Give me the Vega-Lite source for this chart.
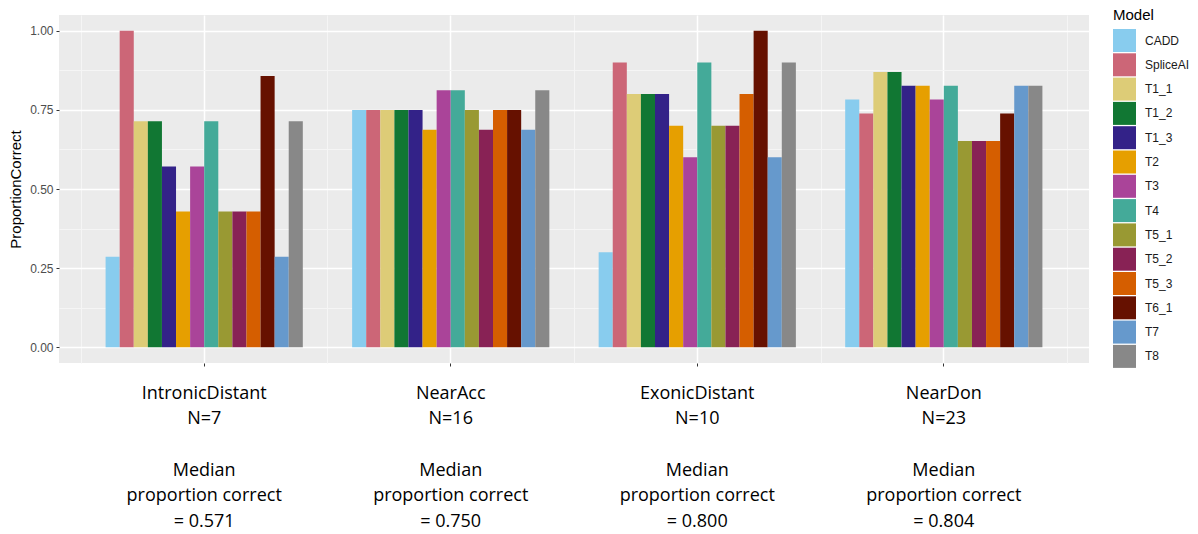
{
  "$schema": "https://vega.github.io/schema/vega-lite/v6.json",
  "width": 1030,
  "height": 348,
  "autosize": {"type": "none"},
  "padding": {"left": 59, "top": 15, "right": 109, "bottom": 171},
  "background": "white",
  "view": {"fill": "#EBEBEB", "stroke": null},
  "config": {
    "axis": {"labelFont": "Liberation Sans", "titleFont": "Liberation Sans"},
    "legend": {"labelFont": "Liberation Sans", "titleFont": "Liberation Sans"}
  },
  "data": {
    "values": [
      {"Region": "IntronicDistant", "Model": "CADD", "ProportionCorrect": 0.286},
      {"Region": "IntronicDistant", "Model": "SpliceAI", "ProportionCorrect": 1.0},
      {"Region": "IntronicDistant", "Model": "T1_1", "ProportionCorrect": 0.714},
      {"Region": "IntronicDistant", "Model": "T1_2", "ProportionCorrect": 0.714},
      {"Region": "IntronicDistant", "Model": "T1_3", "ProportionCorrect": 0.571},
      {"Region": "IntronicDistant", "Model": "T2", "ProportionCorrect": 0.429},
      {"Region": "IntronicDistant", "Model": "T3", "ProportionCorrect": 0.571},
      {"Region": "IntronicDistant", "Model": "T4", "ProportionCorrect": 0.714},
      {"Region": "IntronicDistant", "Model": "T5_1", "ProportionCorrect": 0.429},
      {"Region": "IntronicDistant", "Model": "T5_2", "ProportionCorrect": 0.429},
      {"Region": "IntronicDistant", "Model": "T5_3", "ProportionCorrect": 0.429},
      {"Region": "IntronicDistant", "Model": "T6_1", "ProportionCorrect": 0.857},
      {"Region": "IntronicDistant", "Model": "T7", "ProportionCorrect": 0.286},
      {"Region": "IntronicDistant", "Model": "T8", "ProportionCorrect": 0.714},
      {"Region": "NearAcc", "Model": "CADD", "ProportionCorrect": 0.75},
      {"Region": "NearAcc", "Model": "SpliceAI", "ProportionCorrect": 0.75},
      {"Region": "NearAcc", "Model": "T1_1", "ProportionCorrect": 0.75},
      {"Region": "NearAcc", "Model": "T1_2", "ProportionCorrect": 0.75},
      {"Region": "NearAcc", "Model": "T1_3", "ProportionCorrect": 0.75},
      {"Region": "NearAcc", "Model": "T2", "ProportionCorrect": 0.6875},
      {"Region": "NearAcc", "Model": "T3", "ProportionCorrect": 0.8125},
      {"Region": "NearAcc", "Model": "T4", "ProportionCorrect": 0.8125},
      {"Region": "NearAcc", "Model": "T5_1", "ProportionCorrect": 0.75},
      {"Region": "NearAcc", "Model": "T5_2", "ProportionCorrect": 0.6875},
      {"Region": "NearAcc", "Model": "T5_3", "ProportionCorrect": 0.75},
      {"Region": "NearAcc", "Model": "T6_1", "ProportionCorrect": 0.75},
      {"Region": "NearAcc", "Model": "T7", "ProportionCorrect": 0.6875},
      {"Region": "NearAcc", "Model": "T8", "ProportionCorrect": 0.8125},
      {"Region": "ExonicDistant", "Model": "CADD", "ProportionCorrect": 0.3},
      {"Region": "ExonicDistant", "Model": "SpliceAI", "ProportionCorrect": 0.9},
      {"Region": "ExonicDistant", "Model": "T1_1", "ProportionCorrect": 0.8},
      {"Region": "ExonicDistant", "Model": "T1_2", "ProportionCorrect": 0.8},
      {"Region": "ExonicDistant", "Model": "T1_3", "ProportionCorrect": 0.8},
      {"Region": "ExonicDistant", "Model": "T2", "ProportionCorrect": 0.7},
      {"Region": "ExonicDistant", "Model": "T3", "ProportionCorrect": 0.6},
      {"Region": "ExonicDistant", "Model": "T4", "ProportionCorrect": 0.9},
      {"Region": "ExonicDistant", "Model": "T5_1", "ProportionCorrect": 0.7},
      {"Region": "ExonicDistant", "Model": "T5_2", "ProportionCorrect": 0.7},
      {"Region": "ExonicDistant", "Model": "T5_3", "ProportionCorrect": 0.8},
      {"Region": "ExonicDistant", "Model": "T6_1", "ProportionCorrect": 1.0},
      {"Region": "ExonicDistant", "Model": "T7", "ProportionCorrect": 0.6},
      {"Region": "ExonicDistant", "Model": "T8", "ProportionCorrect": 0.9},
      {"Region": "NearDon", "Model": "CADD", "ProportionCorrect": 0.783},
      {"Region": "NearDon", "Model": "SpliceAI", "ProportionCorrect": 0.739},
      {"Region": "NearDon", "Model": "T1_1", "ProportionCorrect": 0.870},
      {"Region": "NearDon", "Model": "T1_2", "ProportionCorrect": 0.870},
      {"Region": "NearDon", "Model": "T1_3", "ProportionCorrect": 0.826},
      {"Region": "NearDon", "Model": "T2", "ProportionCorrect": 0.826},
      {"Region": "NearDon", "Model": "T3", "ProportionCorrect": 0.783},
      {"Region": "NearDon", "Model": "T4", "ProportionCorrect": 0.826},
      {"Region": "NearDon", "Model": "T5_1", "ProportionCorrect": 0.652},
      {"Region": "NearDon", "Model": "T5_2", "ProportionCorrect": 0.652},
      {"Region": "NearDon", "Model": "T5_3", "ProportionCorrect": 0.652},
      {"Region": "NearDon", "Model": "T6_1", "ProportionCorrect": 0.739},
      {"Region": "NearDon", "Model": "T7", "ProportionCorrect": 0.826},
      {"Region": "NearDon", "Model": "T8", "ProportionCorrect": 0.826}
    ]
  },
  "layer": [
    {
      "mark": {"type": "bar", "strokeWidth": 0},
      "encoding": {
        "x": {
          "field": "Region",
          "type": "nominal",
          "sort": ["IntronicDistant", "NearAcc", "ExonicDistant", "NearDon"],
          "scale": {"paddingInner": 0, "paddingOuter": 0.089},
          "axis": {
            "orient": "bottom",
            "title": null,
            "grid": true,
            "gridColor": "white",
            "gridWidth": 1.5,
            "domain": false,
            "ticks": true,
            "tickColor": "#333333",
            "tickSize": 3,
            "tickWidth": 1,
            "labelAngle": 0,
            "labelFont": "Open Sans",
            "labelFontSize": 18,
            "labelColor": "black",
            "labelLineHeight": 25.7,
            "labelPadding": 18,
            "labelExpr": "datum.value == 'IntronicDistant' ? ['IntronicDistant', 'N=7', '\u2800', 'Median', 'proportion correct', '= 0.571'] : datum.value == 'NearAcc' ? ['NearAcc', 'N=16', '\u2800', 'Median', 'proportion correct', '= 0.750'] : datum.value == 'ExonicDistant' ? ['ExonicDistant', 'N=10', '\u2800', 'Median', 'proportion correct', '= 0.800'] : ['NearDon', 'N=23', '\u2800', 'Median', 'proportion correct', '= 0.804']"
          }
        },
        "xOffset": {
          "field": "Model",
          "type": "nominal",
          "scale": {
            "domain": ["pad_left", "CADD", "SpliceAI", "T1_1", "T1_2", "T1_3", "T2", "T3", "T4", "T5_1", "T5_2", "T5_3", "T6_1", "T7", "T8", "pad_right"],
            "paddingInner": 0,
            "paddingOuter": 0.75
          }
        },
        "y": {
          "field": "ProportionCorrect",
          "type": "quantitative",
          "scale": {"domain": [-0.05, 1.05], "nice": false, "zero": false},
          "axis": {
            "orient": "left",
            "title": "ProportionCorrect",
            "titleFontSize": 15,
            "titleFontWeight": "normal",
            "titleColor": "black",
            "titlePadding": 6,
            "values": [0, 0.25, 0.5, 0.75, 1],
            "format": ".2f",
            "grid": true,
            "gridColor": "white",
            "gridWidth": 1.5,
            "domain": false,
            "tickColor": "#333333",
            "tickSize": 3,
            "labelFontSize": 12,
            "labelColor": "#4D4D4D",
            "labelPadding": 3
          }
        },
        "color": {
          "field": "Model",
          "type": "nominal",
          "scale": {
            "domain": ["CADD", "SpliceAI", "T1_1", "T1_2", "T1_3", "T2", "T3", "T4", "T5_1", "T5_2", "T5_3", "T6_1", "T7", "T8"],
            "range": ["#88CCEE", "#CC6677", "#DDCC77", "#117733", "#332288", "#E69F00", "#AA4499", "#44AA99", "#999933", "#882255", "#D55E00", "#661100", "#6699CC", "#888888"]
          },
          "legend": {
            "orient": "none",
            "legendX": 1054,
            "legendY": -7,
            "title": "Model",
            "titleFontSize": 15,
            "titleFontWeight": "normal",
            "titleColor": "black",
            "titlePadding": 6,
            "labelFontSize": 12,
            "labelColor": "#1A1A1A",
            "labelOffset": 9,
            "symbolType": "square",
            "symbolSize": 529,
            "symbolStrokeWidth": 0,
            "symbolOpacity": 1,
            "rowPadding": 1.3,
            "padding": 0
          }
        }
      }
    },
    {
      "mark": {"type": "bar", "opacity": 0},
      "encoding": {
        "x": {
          "field": "Region",
          "type": "nominal",
          "sort": ["IntronicDistant", "NearAcc", "ExonicDistant", "NearDon"],
          "axis": {
            "orient": "top",
            "title": null,
            "tickBand": "extent",
            "grid": true,
            "gridColor": "#F5F5F5",
            "gridWidth": 1,
            "domain": false,
            "ticks": false,
            "labels": false
          }
        },
        "y": {
          "field": "ProportionCorrect",
          "type": "quantitative",
          "axis": {
            "orient": "right",
            "title": null,
            "values": [0.125, 0.375, 0.625, 0.875],
            "grid": true,
            "gridColor": "#F5F5F5",
            "gridWidth": 1,
            "domain": false,
            "ticks": false,
            "labels": false
          }
        }
      }
    }
  ]
}
